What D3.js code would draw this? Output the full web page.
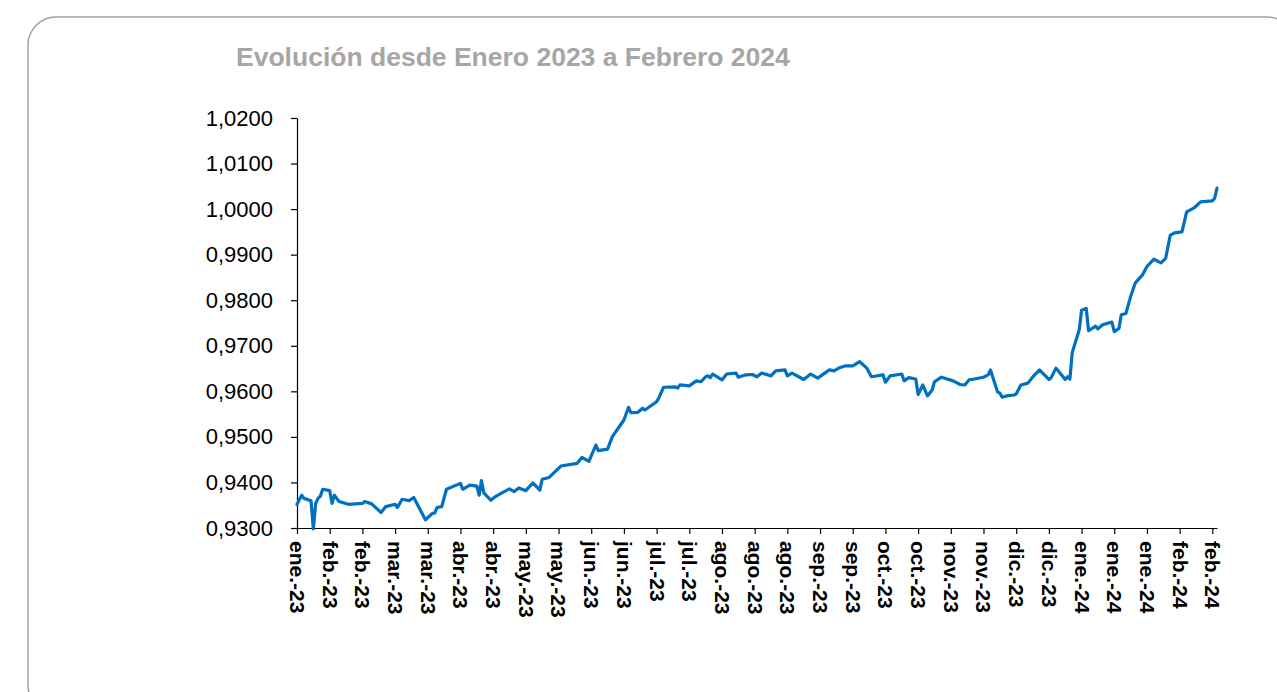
<!DOCTYPE html>
<html lang="es">
<head>
<meta charset="utf-8">
<title>Evolución desde Enero 2023 a Febrero 2024</title>
<script src="https://cdn.jsdelivr.net/npm/d3@7"></script>
<style>
  html, body { margin: 0; padding: 0; background: #ffffff; }
  svg { display: block; font-family: "Liberation Sans", Arial, sans-serif; }
</style>
</head>
<body>
<svg id="chart" width="1277" height="692"></svg>
<script>
// Serie diaria (fecha, valor)
const dates = [
  "2023-01-31","2023-02-02","2023-02-03","2023-02-06","2023-02-07","2023-02-08","2023-02-09","2023-02-10",
  "2023-02-11","2023-02-14","2023-02-15","2023-02-16","2023-02-18","2023-02-22","2023-02-28","2023-03-01",
  "2023-03-04","2023-03-08","2023-03-10","2023-03-14","2023-03-15","2023-03-17","2023-03-20","2023-03-22",
  "2023-03-27","2023-03-30","2023-03-31","2023-04-01","2023-04-03","2023-04-05","2023-04-11","2023-04-12",
  "2023-04-15","2023-04-18","2023-04-19","2023-04-20","2023-04-21","2023-04-24","2023-04-26","2023-04-28",
  "2023-05-02","2023-05-04","2023-05-06","2023-05-09","2023-05-12","2023-05-15","2023-05-16","2023-05-19",
  "2023-05-24","2023-05-31","2023-06-02","2023-06-05","2023-06-08","2023-06-09","2023-06-13","2023-06-15",
  "2023-06-20","2023-06-22","2023-06-23","2023-06-26","2023-06-28","2023-06-29","2023-07-04","2023-07-05",
  "2023-07-07","2023-07-12","2023-07-13","2023-07-14","2023-07-18","2023-07-21","2023-07-23","2023-07-25",
  "2023-07-26","2023-07-27","2023-07-28","2023-08-01","2023-08-03","2023-08-07","2023-08-08","2023-08-11",
  "2023-08-14","2023-08-16","2023-08-18","2023-08-22","2023-08-24","2023-08-28","2023-08-29","2023-08-31",
  "2023-09-05","2023-09-08","2023-09-11","2023-09-16","2023-09-18","2023-09-20","2023-09-23","2023-09-26",
  "2023-09-29","2023-10-02","2023-10-04","2023-10-09","2023-10-10","2023-10-12","2023-10-17","2023-10-18",
  "2023-10-20","2023-10-23","2023-10-24","2023-10-26","2023-10-28","2023-10-30","2023-10-31","2023-11-03",
  "2023-11-08","2023-11-11","2023-11-13","2023-11-15","2023-11-16","2023-11-21","2023-11-23","2023-11-24",
  "2023-11-27","2023-11-28","2023-11-29","2023-12-01","2023-12-04","2023-12-05","2023-12-07","2023-12-10",
  "2023-12-12","2023-12-15","2023-12-19","2023-12-20","2023-12-22","2023-12-26","2023-12-27","2023-12-28",
  "2023-12-29","2024-01-01","2024-01-02","2024-01-04","2024-01-05","2024-01-08","2024-01-09","2024-01-11",
  "2024-01-15","2024-01-16","2024-01-18","2024-01-19","2024-01-21","2024-01-23","2024-01-25","2024-01-28",
  "2024-01-30","2024-02-02","2024-02-05","2024-02-07","2024-02-09","2024-02-11","2024-02-14","2024-02-16",
  "2024-02-19","2024-02-22","2024-02-27","2024-02-28","2024-02-29"
];
const values = [
  0.9352,0.9372,0.9365,0.9360,0.9298,0.9354,0.9365,0.9370,
  0.9385,0.9382,0.9354,0.9372,0.9358,0.9352,0.9354,0.9358,
  0.9353,0.9334,0.9347,0.9352,0.9345,0.9363,0.9360,0.9367,
  0.9318,0.9332,0.9333,0.9345,0.9347,0.9385,0.9398,0.9385,
  0.9394,0.9392,0.9372,0.9404,0.9377,0.9361,0.9369,0.9375,
  0.9386,0.9380,0.9388,0.9382,0.9399,0.9383,0.9407,0.9411,
  0.9436,0.9442,0.9455,0.9446,0.9482,0.9470,0.9473,0.9500,
  0.9537,0.9565,0.9553,0.9554,0.9563,0.9559,0.9577,0.9586,
  0.9609,0.9610,0.9607,0.9614,0.9612,0.9623,0.9621,0.9632,
  0.9634,0.9630,0.9638,0.9625,0.9638,0.9640,0.9631,0.9636,
  0.9637,0.9632,0.9640,0.9634,0.9645,0.9647,0.9634,0.9640,
  0.9626,0.9638,0.9629,0.9647,0.9645,0.9651,0.9656,0.9656,
  0.9665,0.9651,0.9632,0.9636,0.9620,0.9634,0.9638,0.9623,
  0.9630,0.9627,0.9593,0.9614,0.9590,0.9603,0.9621,0.9631,
  0.9623,0.9615,0.9614,0.9626,0.9626,0.9631,0.9636,0.9647,
  0.9599,0.9596,0.9587,0.9590,0.9592,0.9594,0.9614,0.9618,
  0.9631,0.9647,0.9626,0.9630,0.9651,0.9626,0.9632,0.9627,
  0.9685,0.9735,0.9778,0.9782,0.9733,0.9743,0.9737,0.9746,
  0.9752,0.9731,0.9738,0.9768,0.9771,0.9808,0.9838,0.9855,
  0.9874,0.9890,0.9882,0.9892,0.9943,0.9948,0.9950,0.9994,
  1.0002,1.0016,1.0018,1.0024,1.0046
];

// Eje X: una marca cada 14 días desde el inicio de la serie
const xStart = "2023-01-31";
const xEnd = "2024-02-29";
const xTickStepDays = 14;
const xTickLabels = [
  "ene.-23","feb.-23","feb.-23","mar.-23","mar.-23","abr.-23","abr.-23","may.-23","may.-23",
  "jun.-23","jun.-23","jul.-23","jul.-23","ago.-23","ago.-23","ago.-23","sep.-23","sep.-23",
  "oct.-23","oct.-23","nov.-23","nov.-23","dic.-23","dic.-23","ene.-24","ene.-24","ene.-24",
  "feb.-24","feb.-24"
];

// Eje Y
const yMin = 0.93, yMax = 1.02;
const yTicks = [0.93, 0.94, 0.95, 0.96, 0.97, 0.98, 0.99, 1.00, 1.01, 1.02];

const title = "Evolución desde Enero 2023 a Febrero 2024";

const parse = d3.timeParse("%Y-%m-%d");
const series = dates.map((d, i) => ({ date: parse(d), value: values[i] }));
const t0 = parse(xStart), t1 = parse(xEnd);
const xTicks = xTickLabels.map((_, i) => d3.timeDay.offset(t0, i * xTickStepDays));

const svg = d3.select("#chart");

// Marco redondeado del gráfico
svg.append("rect")
  .attr("x", 28).attr("y", 17)
  .attr("width", 1267).attr("height", 696)
  .attr("rx", 28).attr("ry", 28)
  .attr("fill", "none")
  .attr("stroke", "#a0a0a0")
  .attr("stroke-width", 1.5);

// Título
svg.append("text")
  .attr("x", 236).attr("y", 66)
  .attr("font-size", 26.5)
  .attr("font-weight", "bold")
  .attr("fill", "#a6a6a6")
  .text(title);

const x = d3.scaleTime().domain([t0, t1]).range([297, 1217]);
const y = d3.scaleLinear().domain([yMin, yMax]).range([528, 118]);

const locale = d3.formatLocale({ decimal: ",", thousands: ".", grouping: [3], currency: ["", " €"] });
const fmtY = locale.format(".4f");

// Eje Y
const gy = svg.append("g")
  .attr("transform", `translate(${x.range()[0]},0)`)
  .call(d3.axisLeft(y).tickValues(yTicks).tickFormat(fmtY).tickSize(6).tickSizeOuter(0).tickPadding(18));
gy.select(".domain").attr("stroke", "#000").attr("stroke-width", 1.2);
gy.selectAll(".tick line").attr("stroke", "#000").attr("stroke-width", 1.2);
gy.selectAll(".tick text")
  .attr("font-size", 22)
  .attr("fill", "#000")
  .attr("font-family", "'Liberation Sans', Arial, sans-serif");

// Eje X
const gx = svg.append("g")
  .attr("transform", `translate(0,${y.range()[0]})`)
  .call(d3.axisBottom(x).tickValues(xTicks).tickFormat((d, i) => xTickLabels[i]).tickSize(6).tickSizeOuter(0));
gx.select(".domain").attr("stroke", "#000").attr("stroke-width", 1.2);
gx.selectAll(".tick line").attr("stroke", "#000").attr("stroke-width", 1.2);
gx.selectAll(".tick text")
  .attr("font-size", 21)
  .attr("font-weight", "bold")
  .attr("fill", "#000")
  .attr("font-family", "'Liberation Sans', Arial, sans-serif")
  .attr("text-anchor", "start")
  .attr("transform", "rotate(90)")
  .attr("x", 13)
  .attr("y", 0)
  .attr("dy", "0.36em");

// Línea de la serie
const line = d3.line()
  .x(d => x(d.date))
  .y(d => y(d.value));

svg.append("path")
  .datum(series)
  .attr("fill", "none")
  .attr("stroke", "#0070c0")
  .attr("stroke-width", 3.2)
  .attr("stroke-linejoin", "round")
  .attr("stroke-linecap", "round")
  .attr("d", line);
</script>
</body>
</html>
